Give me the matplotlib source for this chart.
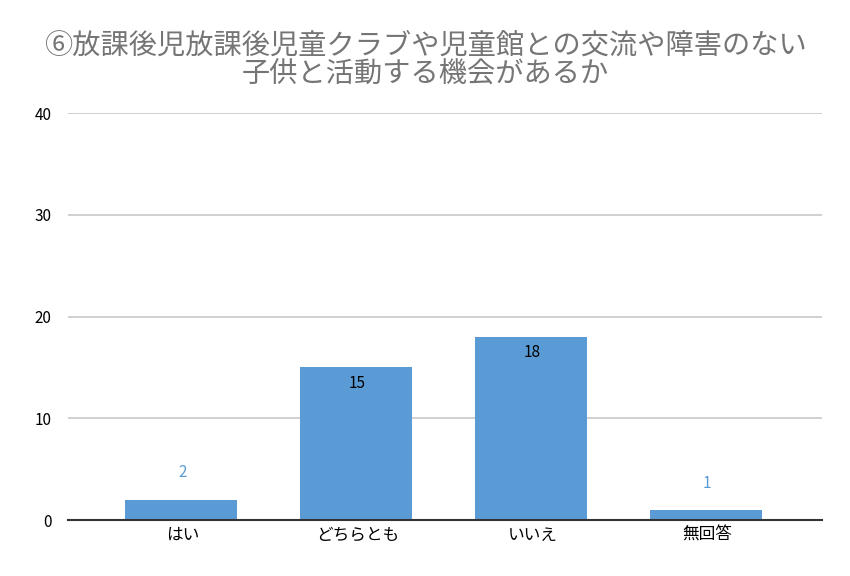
import matplotlib
matplotlib.use('Agg')
import matplotlib.pyplot as plt

plt.rcParams['font.family'] = ['Noto Sans CJK JP', 'DejaVu Sans']

categories = ['はい', 'どちらとも', 'いいえ', '無回答']
counts = [2, 15, 18, 1]
title = '⑥放課後児放課後児童クラブや児童館との交流や障害のない\n子供と活動する機会があるか'

bar_color = '#5b9bd5'

fig = plt.figure(figsize=(8.5, 5.76), dpi=100)
ax = fig.add_axes([0.08, 0.0972, 0.887, 0.7066])

x = range(len(categories))
bars = ax.bar([xi - 0.01 for xi in x], counts, width=0.64, color=bar_color, zorder=3)

for xi, v in zip(x, counts):
    if v >= 5:
        ax.text(xi, v - 0.7, str(v), ha='center', va='top', fontsize=11, color='black', zorder=4)
    else:
        ax.text(xi, v + 1.8, str(v), ha='center', va='bottom', fontsize=11, color=bar_color, zorder=4)

ax.set_xlim(-0.655, 3.655)
ax.set_ylim(0, 40)
ax.set_yticks([0, 10, 20, 30, 40])
ax.set_xticks(list(x))
ax.set_xticklabels(categories, fontsize=12)
ax.tick_params(axis='y', labelsize=11, length=0, pad=12)
ax.tick_params(axis='x', length=0, pad=5)
ax.grid(axis='y', color='#c8c8c8', linewidth=1.2, zorder=0)
for s in ['top', 'right', 'left']:
    ax.spines[s].set_visible(False)
ax.spines['bottom'].set_color('#333333')
ax.spines['bottom'].set_linewidth(1.5)
ax.spines['bottom'].set_zorder(5)

fig.text(0.5, 0.896, title, ha='center', va='center', fontsize=20.3, color='#757575', linespacing=0.95)

fig.savefig('out.png', dpi=100)
